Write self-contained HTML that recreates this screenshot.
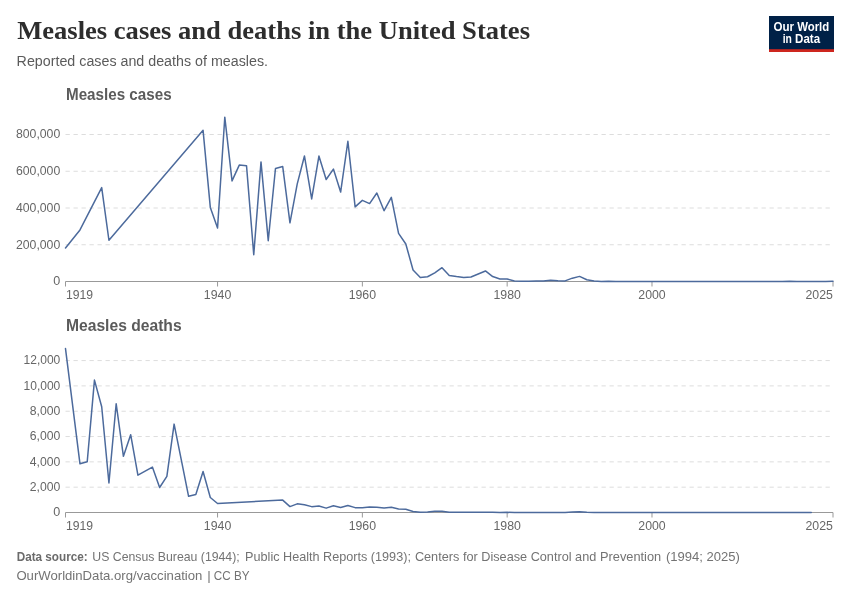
<!DOCTYPE html>
<html lang="en"><head><meta charset="utf-8"><title>Measles cases and deaths in the United States</title>
<style>html,body{margin:0;padding:0;background:#fff}svg{display:block}</style></head>
<body><svg width="850" height="600" viewBox="0 0 850 600">
<rect width="850" height="600" fill="#ffffff"/>
<text x="17.2" y="39" font-family="Liberation Serif, serif" font-size="26" fill="#2d2d2d" font-weight="bold" textLength="512.8" lengthAdjust="spacingAndGlyphs">Measles cases and deaths in the United States</text>
<text x="16.6" y="65.9" font-family="Liberation Sans, sans-serif" font-size="14" fill="#5b5b5b" textLength="251.4" lengthAdjust="spacingAndGlyphs">Reported cases and deaths of measles.</text>
<rect x="769" y="16" width="65" height="36" fill="#002147"/>
<rect x="769" y="49.2" width="65" height="2.8" fill="#ce261e"/>
<text x="773.5" y="30.7" font-family="Liberation Sans, sans-serif" font-size="12.9" fill="#ffffff" font-weight="bold" textLength="20.6" lengthAdjust="spacingAndGlyphs">Our</text>
<text x="797.2" y="30.7" font-family="Liberation Sans, sans-serif" font-size="12.9" fill="#ffffff" font-weight="bold" textLength="32.0" lengthAdjust="spacingAndGlyphs">World</text>
<text x="782.7" y="42.5" font-family="Liberation Sans, sans-serif" font-size="12.9" fill="#ffffff" font-weight="bold" textLength="9.2" lengthAdjust="spacingAndGlyphs">in</text>
<text x="795.1" y="42.5" font-family="Liberation Sans, sans-serif" font-size="12.9" fill="#ffffff" font-weight="bold" textLength="25.0" lengthAdjust="spacingAndGlyphs">Data</text>
<text x="66.0" y="99.7" font-family="Liberation Sans, sans-serif" font-size="16.4" fill="#5b5b5b" font-weight="bold" textLength="105.6" lengthAdjust="spacingAndGlyphs">Measles cases</text>
<text x="60.3" y="285.0" font-family="Liberation Sans, sans-serif" font-size="13" fill="#666666" text-anchor="end" textLength="7" lengthAdjust="spacingAndGlyphs">0</text>
<line x1="65.5" x2="833" y1="244.75" y2="244.75" stroke="#dddddd" stroke-width="1" stroke-dasharray="4.3,3.7"/>
<text x="60.3" y="248.65" font-family="Liberation Sans, sans-serif" font-size="13" fill="#666666" text-anchor="end" textLength="44.4" lengthAdjust="spacingAndGlyphs">200,000</text>
<line x1="65.5" x2="833" y1="208.00" y2="208.00" stroke="#dddddd" stroke-width="1" stroke-dasharray="4.3,3.7"/>
<text x="60.3" y="211.9" font-family="Liberation Sans, sans-serif" font-size="13" fill="#666666" text-anchor="end" textLength="44.4" lengthAdjust="spacingAndGlyphs">400,000</text>
<line x1="65.5" x2="833" y1="171.25" y2="171.25" stroke="#dddddd" stroke-width="1" stroke-dasharray="4.3,3.7"/>
<text x="60.3" y="175.15" font-family="Liberation Sans, sans-serif" font-size="13" fill="#666666" text-anchor="end" textLength="44.4" lengthAdjust="spacingAndGlyphs">600,000</text>
<line x1="65.5" x2="833" y1="134.50" y2="134.50" stroke="#dddddd" stroke-width="1" stroke-dasharray="4.3,3.7"/>
<text x="60.3" y="138.4" font-family="Liberation Sans, sans-serif" font-size="13" fill="#666666" text-anchor="end" textLength="44.4" lengthAdjust="spacingAndGlyphs">800,000</text>
<path d="M65.5,286.50V281.50H833V286.50" fill="none" stroke="#999999" stroke-width="1"/>
<line x1="217.55" x2="217.55" y1="281.50" y2="286.50" stroke="#999999" stroke-width="1"/>
<text x="217.55" y="298.65" font-family="Liberation Sans, sans-serif" font-size="13" fill="#666666" text-anchor="middle" textLength="27.4" lengthAdjust="spacingAndGlyphs">1940</text>
<line x1="362.36" x2="362.36" y1="281.50" y2="286.50" stroke="#999999" stroke-width="1"/>
<text x="362.36" y="298.65" font-family="Liberation Sans, sans-serif" font-size="13" fill="#666666" text-anchor="middle" textLength="27.4" lengthAdjust="spacingAndGlyphs">1960</text>
<line x1="507.17" x2="507.17" y1="281.50" y2="286.50" stroke="#999999" stroke-width="1"/>
<text x="507.17" y="298.65" font-family="Liberation Sans, sans-serif" font-size="13" fill="#666666" text-anchor="middle" textLength="27.4" lengthAdjust="spacingAndGlyphs">1980</text>
<line x1="651.99" x2="651.99" y1="281.50" y2="286.50" stroke="#999999" stroke-width="1"/>
<text x="651.99" y="298.65" font-family="Liberation Sans, sans-serif" font-size="13" fill="#666666" text-anchor="middle" textLength="27.4" lengthAdjust="spacingAndGlyphs">2000</text>
<text x="66.0" y="298.65" font-family="Liberation Sans, sans-serif" font-size="13" fill="#666666" textLength="27.1" lengthAdjust="spacingAndGlyphs">1919</text>
<text x="832.9" y="298.65" font-family="Liberation Sans, sans-serif" font-size="13" fill="#666666" text-anchor="end" textLength="27.4" lengthAdjust="spacingAndGlyphs">2025</text>
<polyline points="65.50,247.97 79.98,229.94 101.70,187.60 108.94,240.23 203.07,130.31 210.31,207.39 217.55,228.00 224.79,117.20 232.03,180.92 239.27,165.07 246.51,165.68 253.75,254.67 261.00,161.88 268.24,240.64 275.48,168.47 282.72,166.60 289.96,222.86 297.20,184.09 304.44,155.98 311.68,198.97 318.92,156.05 326.16,179.49 333.40,169.06 340.64,192.05 347.88,141.28 355.12,206.87 362.36,200.34 369.60,203.60 376.84,193.02 384.08,210.73 391.33,197.33 398.57,233.38 405.81,243.99 413.05,269.98 420.29,277.42 427.53,276.75 434.77,272.80 442.01,267.67 449.25,275.57 456.49,276.60 463.73,277.44 470.97,277.02 478.21,273.94 485.45,270.96 492.69,276.56 499.93,279.00 507.17,279.02 514.42,280.93 521.66,281.19 528.90,281.22 536.14,281.02 543.38,280.98 550.62,280.35 557.86,280.83 565.10,280.88 572.34,278.16 579.58,276.39 586.82,279.73 594.06,281.09 601.30,281.44 608.54,281.32 615.78,281.44 623.02,281.41 630.26,281.47 637.50,281.48 644.75,281.48 651.99,281.48 659.23,281.48 666.47,281.49 673.71,281.49 680.95,281.49 688.19,281.49 695.43,281.49 702.67,281.49 709.91,281.47 717.15,281.49 724.39,281.49 731.63,281.46 738.87,281.49 746.11,281.47 753.35,281.38 760.59,281.47 767.83,281.48 775.08,281.48 782.32,281.43 789.56,281.27 796.80,281.50 804.04,281.49 811.28,281.48 818.52,281.49 825.76,281.45 833.00,281.13" fill="none" stroke="#4c6a9c" stroke-width="1.5" stroke-linejoin="round" stroke-linecap="round"/>
<text x="66.0" y="330.8" font-family="Liberation Sans, sans-serif" font-size="16.4" fill="#5b5b5b" font-weight="bold" textLength="115.6" lengthAdjust="spacingAndGlyphs">Measles deaths</text>
<text x="60.3" y="516.0" font-family="Liberation Sans, sans-serif" font-size="13" fill="#666666" text-anchor="end" textLength="7" lengthAdjust="spacingAndGlyphs">0</text>
<line x1="65.5" x2="833" y1="487.18" y2="487.18" stroke="#dddddd" stroke-width="1" stroke-dasharray="4.3,3.7"/>
<text x="60.3" y="491.08" font-family="Liberation Sans, sans-serif" font-size="13" fill="#666666" text-anchor="end" textLength="30.6" lengthAdjust="spacingAndGlyphs">2,000</text>
<line x1="65.5" x2="833" y1="461.86" y2="461.86" stroke="#dddddd" stroke-width="1" stroke-dasharray="4.3,3.7"/>
<text x="60.3" y="465.76" font-family="Liberation Sans, sans-serif" font-size="13" fill="#666666" text-anchor="end" textLength="30.6" lengthAdjust="spacingAndGlyphs">4,000</text>
<line x1="65.5" x2="833" y1="436.54" y2="436.54" stroke="#dddddd" stroke-width="1" stroke-dasharray="4.3,3.7"/>
<text x="60.3" y="440.44" font-family="Liberation Sans, sans-serif" font-size="13" fill="#666666" text-anchor="end" textLength="30.6" lengthAdjust="spacingAndGlyphs">6,000</text>
<line x1="65.5" x2="833" y1="411.22" y2="411.22" stroke="#dddddd" stroke-width="1" stroke-dasharray="4.3,3.7"/>
<text x="60.3" y="415.12" font-family="Liberation Sans, sans-serif" font-size="13" fill="#666666" text-anchor="end" textLength="30.6" lengthAdjust="spacingAndGlyphs">8,000</text>
<line x1="65.5" x2="833" y1="385.90" y2="385.90" stroke="#dddddd" stroke-width="1" stroke-dasharray="4.3,3.7"/>
<text x="60.3" y="389.8" font-family="Liberation Sans, sans-serif" font-size="13" fill="#666666" text-anchor="end" textLength="36.8" lengthAdjust="spacingAndGlyphs">10,000</text>
<line x1="65.5" x2="833" y1="360.58" y2="360.58" stroke="#dddddd" stroke-width="1" stroke-dasharray="4.3,3.7"/>
<text x="60.3" y="364.48" font-family="Liberation Sans, sans-serif" font-size="13" fill="#666666" text-anchor="end" textLength="36.8" lengthAdjust="spacingAndGlyphs">12,000</text>
<path d="M65.5,517.50V512.50H833V517.50" fill="none" stroke="#999999" stroke-width="1"/>
<line x1="217.55" x2="217.55" y1="512.50" y2="517.50" stroke="#999999" stroke-width="1"/>
<text x="217.55" y="529.65" font-family="Liberation Sans, sans-serif" font-size="13" fill="#666666" text-anchor="middle" textLength="27.4" lengthAdjust="spacingAndGlyphs">1940</text>
<line x1="362.36" x2="362.36" y1="512.50" y2="517.50" stroke="#999999" stroke-width="1"/>
<text x="362.36" y="529.65" font-family="Liberation Sans, sans-serif" font-size="13" fill="#666666" text-anchor="middle" textLength="27.4" lengthAdjust="spacingAndGlyphs">1960</text>
<line x1="507.17" x2="507.17" y1="512.50" y2="517.50" stroke="#999999" stroke-width="1"/>
<text x="507.17" y="529.65" font-family="Liberation Sans, sans-serif" font-size="13" fill="#666666" text-anchor="middle" textLength="27.4" lengthAdjust="spacingAndGlyphs">1980</text>
<line x1="651.99" x2="651.99" y1="512.50" y2="517.50" stroke="#999999" stroke-width="1"/>
<text x="651.99" y="529.65" font-family="Liberation Sans, sans-serif" font-size="13" fill="#666666" text-anchor="middle" textLength="27.4" lengthAdjust="spacingAndGlyphs">2000</text>
<text x="66.0" y="529.65" font-family="Liberation Sans, sans-serif" font-size="13" fill="#666666" textLength="27.1" lengthAdjust="spacingAndGlyphs">1919</text>
<text x="832.9" y="529.65" font-family="Liberation Sans, sans-serif" font-size="13" fill="#666666" text-anchor="end" textLength="27.4" lengthAdjust="spacingAndGlyphs">2025</text>
<polyline points="65.50,348.55 79.98,463.82 87.22,461.73 94.46,380.08 101.70,406.79 108.94,483.00 116.18,403.75 123.42,456.29 130.67,434.70 137.91,475.22 152.39,467.11 159.63,487.51 166.87,476.32 174.11,424.13 181.35,460.21 188.59,496.31 195.83,494.51 203.07,471.52 210.31,497.51 217.55,503.51 282.72,500.09 289.96,506.58 297.20,503.85 304.44,504.68 311.68,506.65 318.92,505.94 326.16,508.13 333.40,505.79 340.64,507.58 347.88,505.51 355.12,507.63 362.36,507.69 369.60,507.01 376.84,507.33 384.08,507.89 391.33,507.17 398.57,509.01 405.81,509.20 413.05,511.47 420.29,512.20 427.53,511.98 434.77,511.37 442.01,511.36 449.25,512.20 456.49,512.21 463.73,512.25 470.97,512.25 478.21,512.35 485.45,512.31 492.69,512.36 499.93,512.42 507.17,512.36 514.42,512.47 521.66,512.47 528.90,512.45 536.14,512.49 543.38,512.45 550.62,512.47 557.86,512.47 565.10,512.46 572.34,512.09 579.58,511.69 586.82,512.16 594.06,512.45 601.30,512.50 608.54,512.50 615.78,512.47 623.02,512.49 630.26,512.47 637.50,512.50 644.75,512.47 651.99,512.49 659.23,512.49 666.47,512.50 673.71,512.49 680.95,512.50 688.19,512.49 695.43,512.50 702.67,512.50 709.91,512.50 717.15,512.47 724.39,512.47 731.63,512.50 738.87,512.47 746.11,512.50 753.35,512.50 760.59,512.49 767.83,512.50 775.08,512.50 782.32,512.50 789.56,512.50 796.80,512.50 804.04,512.50 811.28,512.50" fill="none" stroke="#4c6a9c" stroke-width="1.5" stroke-linejoin="round" stroke-linecap="round"/>
<text x="16.7" y="560.7" font-family="Liberation Sans, sans-serif" font-size="13.4" fill="#6b6b6b" font-weight="bold" textLength="71.0" lengthAdjust="spacingAndGlyphs">Data source:</text>
<text x="92.3" y="560.7" font-family="Liberation Sans, sans-serif" font-size="13.4" fill="#737373" textLength="147.4" lengthAdjust="spacingAndGlyphs">US Census Bureau (1944);</text>
<text x="245.1" y="560.7" font-family="Liberation Sans, sans-serif" font-size="13.4" fill="#737373" textLength="165.8" lengthAdjust="spacingAndGlyphs">Public Health Reports (1993);</text>
<text x="414.9" y="560.7" font-family="Liberation Sans, sans-serif" font-size="13.4" fill="#737373" textLength="181.4" lengthAdjust="spacingAndGlyphs">Centers for Disease Control and</text>
<text x="600.0" y="560.7" font-family="Liberation Sans, sans-serif" font-size="13.4" fill="#737373" textLength="61.2" lengthAdjust="spacingAndGlyphs">Prevention</text>
<text x="665.9" y="560.7" font-family="Liberation Sans, sans-serif" font-size="13.4" fill="#737373" textLength="73.9" lengthAdjust="spacingAndGlyphs">(1994; 2025)</text>
<text x="16.4" y="580" font-family="Liberation Sans, sans-serif" font-size="13.4" fill="#737373" textLength="186.0" lengthAdjust="spacingAndGlyphs">OurWorldinData.org/vaccination</text>
<text x="207.2" y="580" font-family="Liberation Sans, sans-serif" font-size="13.4" fill="#737373">|</text>
<text x="213.8" y="580" font-family="Liberation Sans, sans-serif" font-size="13.4" fill="#737373" textLength="35.7" lengthAdjust="spacingAndGlyphs">CC BY</text>
</svg></body></html>
